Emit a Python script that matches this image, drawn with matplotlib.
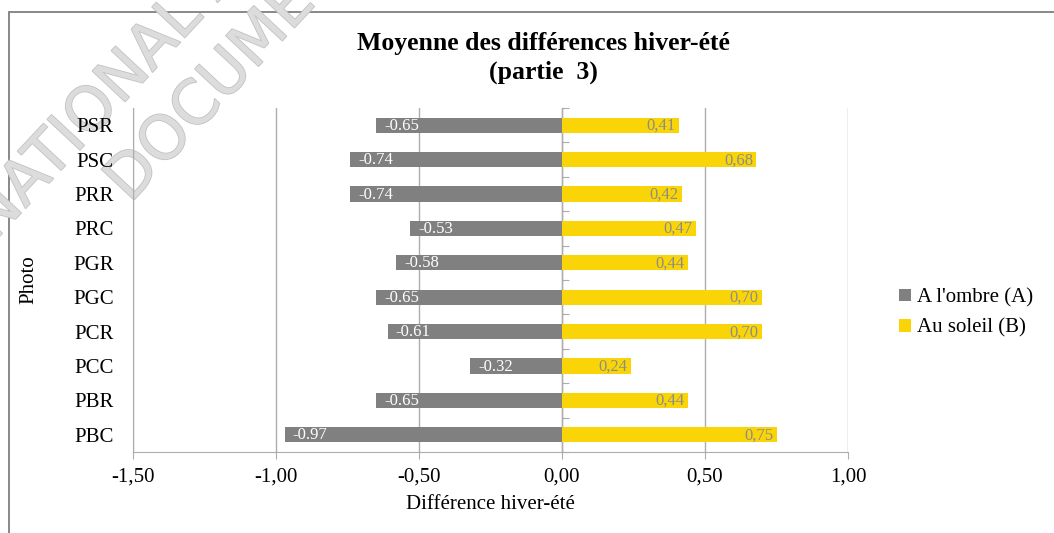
import numpy as np
import matplotlib
matplotlib.use('Agg')
import matplotlib.pyplot as plt
from matplotlib.patches import Rectangle
import matplotlib.patheffects as pe

# Data (top to bottom as displayed)
photos = ['PSR', 'PSC', 'PRR', 'PRC', 'PGR', 'PGC', 'PCR', 'PCC', 'PBR', 'PBC']
ombre = [-0.65, -0.74, -0.74, -0.53, -0.58, -0.65, -0.61, -0.32, -0.65, -0.97]
soleil = [0.41, 0.68, 0.42, 0.47, 0.44, 0.70, 0.70, 0.24, 0.44, 0.75]
xticks = [-1.5, -1.0, -0.5, 0.0, 0.5, 1.0]

plt.rcParams['font.family'] = ['Liberation Serif', 'DejaVu Serif']

W, H = 1054, 533
fig = plt.figure(figsize=(W / 100, H / 100), dpi=100)
ax = fig.add_axes([133 / W, 1 - 452 / H, (848 - 133) / W, (452 - 108) / H])
ax.patch.set_alpha(0)

grey = '#808080'
yellow = '#F9D508'
gridc = '#ADADAD'

y = np.arange(len(photos))[::-1]
bh = 0.44
ax.barh(y, ombre, height=bh, color=grey, label="A l'ombre (A)", zorder=3)
ax.barh(y, soleil, height=bh, color=yellow, label='Au soleil (B)', zorder=3)

# value labels
for yi, v in zip(y, ombre):
    ax.text(v + 0.028, yi - 0.02, f'{v:.2f}', color='white', fontsize=12,
            ha='left', va='center', zorder=4)
for yi, v in zip(y, soleil):
    ax.text(v - 0.012, yi - 0.02, f'{v:.2f}'.replace('.', ','), color='#8c8c8c',
            fontsize=12, ha='right', va='center', zorder=4)

ax.set_xlim(-1.5, 1.0)
ax.set_ylim(-0.5, len(photos) - 0.5)
ax.set_xticks(xticks)
ax.set_xticklabels([f'{t:.2f}'.replace('.', ',') for t in xticks], fontsize=15)
ax.tick_params(axis='x', length=5, color=gridc, pad=6)
ax.set_yticks(y)
ax.set_yticklabels(photos, fontsize=15)
ax.tick_params(axis='y', length=0, pad=14)
ax.xaxis.grid(True, color=gridc, lw=1, zorder=0)
for s in ['top', 'right']:
    ax.spines[s].set_visible(False)
ax.spines['left'].set_color(gridc)
ax.spines['bottom'].set_color(gridc)

# zero axis with category boundary ticks
sec = ax.secondary_yaxis(0.6)
sec.set_yticks(np.arange(-0.5, len(photos), 1.0))
sec.set_yticklabels([])
sec.tick_params(length=5, color=gridc)
sec.spines['left'].set_color(gridc)

ax.set_xlabel('Différence hiver-été', fontsize=15, labelpad=6)
ax.set_ylabel('Photo', fontsize=15, labelpad=25)

fig.text(543 / W, 1 - 43 / H, 'Moyenne des différences hiver-été', ha='center',
         va='center', fontsize=18.5, fontweight='bold')
fig.text(543 / W, 1 - 72 / H, '(partie  3)', ha='center', va='center',
         fontsize=18.5, fontweight='bold')

fig.legend(loc='center left', bbox_to_anchor=(891 / W, 1 - 313 / H), frameon=False,
           fontsize=15, handlelength=0.55, handleheight=0.55, handletextpad=0.3,
           labelspacing=0.55, borderaxespad=0)

# chart border
fig.patches.append(Rectangle((9 / W, -0.1), 1.2, 1.1 - 12 / H, transform=fig.transFigure,
                             fill=False, edgecolor='#7f7f7f', lw=1.3, zorder=-3))

# watermark (behind the chart texts, above the border)
wm = dict(fontsize=44, color='#dcdcdc', family='DejaVu Sans', rotation=47,
          rotation_mode='anchor', ha='left', va='baseline', zorder=-1,
          path_effects=[pe.withStroke(linewidth=1.2, foreground='#c2c2c2')])
fig.text(-6 / W, 1 - 242 / H, 'NATIONAL ARCHIVES', **wm)
fig.text(130 / W, 1 - 204 / H, 'DOCUMENT', **wm)

fig.savefig('out.png', dpi=100)
